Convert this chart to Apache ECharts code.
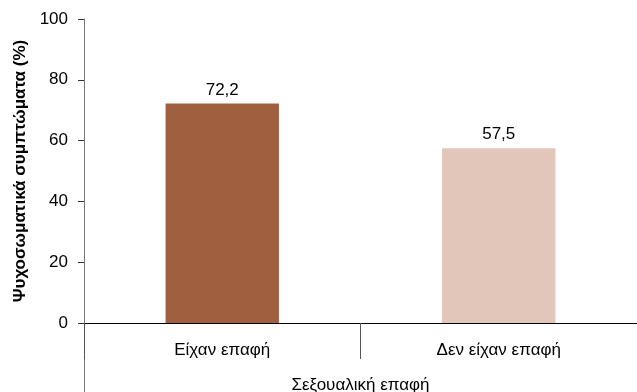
<!DOCTYPE html>
<html>
<head>
<meta charset="utf-8">
<script src="https://cdn.jsdelivr.net/npm/echarts@6/dist/echarts.min.js"></script>
<style>
  html, body { margin: 0; padding: 0; background: #fff; }
  #chart { width: 637px; height: 392px; }
</style>
</head>
<body>
<div id="chart"></div>
<script>
// Share of respondents with psychosomatic symptoms, by sexual contact
const categories = ['Είχαν επαφή', 'Δεν είχαν επαφή'];
const values = [72.2, 57.5];
const barColors = ['#A0603F', '#E2C6BA'];
const yTicks = [0, 20, 40, 60, 80, 100];

const FONT = '"Liberation Sans", Arial, sans-serif';

const chart = echarts.init(document.getElementById('chart'));

chart.setOption({
  animation: false,
  grid: { left: 84, right: 0, top: 19, bottom: 69, containLabel: false, outerBoundsMode: 'none' },
  xAxis: {
    type: 'category',
    data: categories,
    name: 'Σεξουαλική επαφή',
    nameLocation: 'middle',
    nameGap: 54,
    nameTextStyle: { fontFamily: FONT, fontSize: 17, color: '#000' },
    axisLine: { lineStyle: { color: '#000', width: 1 } },
    axisTick: { show: true, alignWithLabel: false, length: 36, lineStyle: { color: '#555' } },
    axisLabel: { fontFamily: FONT, fontSize: 17, color: '#000', margin: 19 }
  },
  yAxis: {
    type: 'value',
    min: yTicks[0],
    max: yTicks[yTicks.length - 1],
    interval: 20,
    name: 'Ψυχοσωματικά συμπτώματα (%)',
    nameLocation: 'middle',
    nameGap: 53,
    nameTextStyle: { fontFamily: FONT, fontSize: 17, fontWeight: 'bold', color: '#000' },
    axisLine: { show: true, lineStyle: { color: '#777' } },
    axisTick: { show: true, length: 6, lineStyle: { color: '#333' } },
    axisLabel: { fontFamily: FONT, fontSize: 17, color: '#000', margin: 16 },
    splitLine: { show: false }
  },
  series: [{
    type: 'bar',
    barWidth: '41%',
    data: values.map((v, i) => ({ value: v, itemStyle: { color: barColors[i] } })),
    label: {
      show: true,
      position: 'top',
      distance: 5,
      fontFamily: FONT,
      fontSize: 17,
      color: '#000',
      formatter: p => String(p.value).replace('.', ',')
    }
  }]
});

// Extend the value axis line down past the category band, as in a multi-level category axis
const origin = chart.convertToPixel({ gridIndex: 0 }, [0, 0]);
const axisX = chart.getModel().getComponent('grid', 0).coordinateSystem.getRect().x;
chart.setOption({
  graphic: [{
    type: 'line',
    shape: { x1: axisX + 0.5, y1: origin[1], x2: axisX + 0.5, y2: 392 },
    style: { stroke: '#777', lineWidth: 1 },
    silent: true
  }]
});
</script>
</body>
</html>
